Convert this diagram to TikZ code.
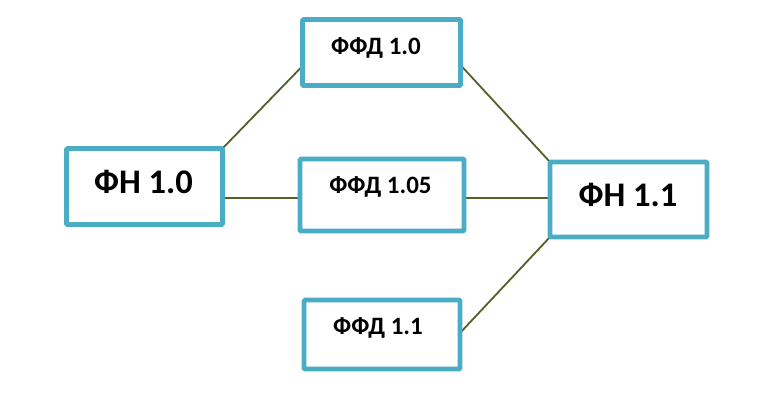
\documentclass[tikz,border=0pt]{standalone}
\usepackage{fontspec}
\setmainfont{Carlito}
\usetikzlibrary{calc,backgrounds}
\definecolor{boxblue}{HTML}{4BACC6}
\definecolor{linegreen}{HTML}{4F6228}
\tikzset{
  box/.style={draw=boxblue, line width=4.6pt, rounded corners=1pt, fill=white, inner sep=0pt, outer sep=0pt},
  bigtxt/.style={font=\bfseries\fontsize{34.5}{38}\selectfont, anchor=base, inner sep=0pt},
  smalltxt/.style={font=\bfseries\fontsize{25}{28}\selectfont, anchor=base, inner sep=0pt},
  conn/.style={draw=linegreen, line width=1.8pt}
}
\begin{document}
\begin{tikzpicture}[x=1pt,y=-1pt]
\useasboundingbox (0,0) rectangle (773,392);
\node[box, minimum width=156pt, minimum height=76pt] (n1) at (144.5,186.5) {};
\node[box, minimum width=158pt, minimum height=66pt] (f1) at (381.5,52.5) {};
\node[box, minimum width=164pt, minimum height=72pt] (f2) at (382,195) {};
\node[box, minimum width=156pt, minimum height=69pt] (f3) at (382,334.5) {};
\node[box, minimum width=157pt, minimum height=75pt] (n2) at (628.5,199.5) {};
\node[bigtxt] (t1) at (143.5,193.5) {ФН 1.0};
\node[smalltxt] (t2) at (376,54) {ФФД 1.0};
\node[smalltxt] (t3) at (380.5,193) {ФФД 1.05};
\node[smalltxt] (t4) at (378,334) {ФФД 1.1};
\node[bigtxt] (t5) at (628,206.5) {ФН 1.1};
\coordinate (m1) at ($(n1.east)+(0,11.3)$);
\begin{pgfonlayer}{background}
\draw[conn] (n1.north east) -- ($(f1.west)+(0,13.5)$);
\draw[conn, line width=2pt] (m1) -- (m1 -| f2.west);
\draw[conn, line width=2pt] (m1 -| f2.east) -- (m1 -| n2.west);
\draw[conn] ($(f1.east)+(0,12.5)$) -- (n2.north west);
\draw[conn] ($(f3.east)+(0,-1.5)$) -- (n2.south west);
\end{pgfonlayer}
\end{tikzpicture}
\end{document}
